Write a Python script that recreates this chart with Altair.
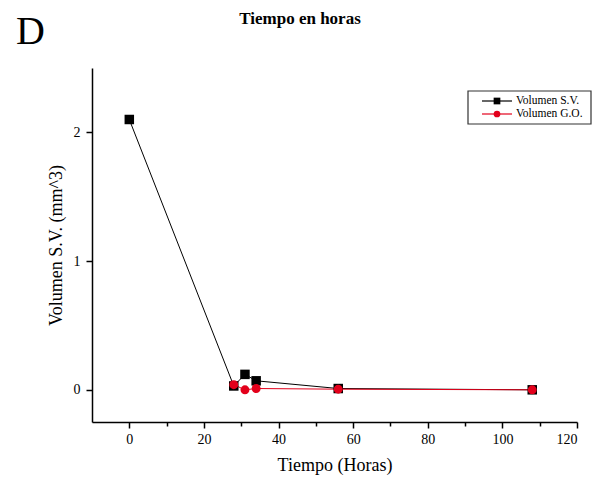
import altair as alt
import pandas as pd

# Data
hours_sv = [0, 28, 31, 34, 56, 108]
vol_sv = [2.1, 0.03, 0.12, 0.07, 0.01, 0.0]
hours_go = [28, 31, 34, 56, 108]
vol_go = [0.04, 0.0, 0.01, 0.005, 0.0]
series_names = ["Volumen S.V.", "Volumen G.O."]
series_colors = ["#000000", "#e3001b"]

df_sv = pd.DataFrame({"h": hours_sv, "v": vol_sv, "s": series_names[0]})
df_go = pd.DataFrame({"h": hours_go, "v": vol_go, "s": series_names[1]})

FONT = "Liberation Serif"
W, H = 485, 354

xs = alt.Scale(domain=[-10, 120], nice=False, zero=False)
ys = alt.Scale(domain=[-0.25, 2.5], nice=False, zero=False)

x_axis = alt.Axis(
    values=list(range(0, 121, 10)),
    format="d",
    labelExpr="datum.value % 20 === 0 ? datum.label : ''",
    tickSize={"condition": {"test": "datum.value % 20 === 0", "value": 6}, "value": 4},
    grid=False, domainColor="black", domainWidth=1.5, tickColor="black", tickWidth=1.5,
    labelFont=FONT, labelFontSize=14, labelColor="black", labelPadding=4,
    title="Tiempo (Horas)", titleFont=FONT, titleFontSize=18, titleFontWeight="normal",
    titleColor="black", titlePadding=10,
)
y_axis = alt.Axis(
    values=[0, 0.5, 1, 1.5, 2],
    format="d",
    labelExpr="datum.value % 1 === 0 ? datum.label : ''",
    tickSize={"condition": {"test": "datum.value % 1 === 0", "value": 6}, "value": 4},
    grid=False, domainColor="black", domainWidth=1.5, tickColor="black", tickWidth=1.5,
    labelFont=FONT, labelFontSize=14, labelColor="black", labelPadding=6,
    title="Volumen S.V. (mm^3)", titleFont=FONT, titleFontSize=18, titleFontWeight="normal",
    titleColor="black", titlePadding=8,
)

base_sv = alt.Chart(df_sv)
base_go = alt.Chart(df_go)

line_sv = base_sv.mark_line(color=series_colors[0], strokeWidth=1).encode(
    x=alt.X("h:Q", scale=xs, axis=x_axis), y=alt.Y("v:Q", scale=ys, axis=y_axis))
pts_sv = base_sv.mark_point(shape="square", filled=True, size=90, color=series_colors[0], opacity=1).encode(
    x=alt.X("h:Q", scale=xs), y=alt.Y("v:Q", scale=ys))
line_go = base_go.mark_line(color=series_colors[1], strokeWidth=1).encode(
    x=alt.X("h:Q", scale=xs), y=alt.Y("v:Q", scale=ys))
pts_go = base_go.mark_point(shape="circle", filled=True, size=80, color=series_colors[1], opacity=1).encode(
    x=alt.X("h:Q", scale=xs), y=alt.Y("v:Q", scale=ys))

# Manual legend (pixel positions relative to plot area origin at (92,68))
lx0, ly0 = 376, 23
leg_box = alt.Chart(pd.DataFrame({"a": [0]})).mark_rect(
    fill="white", stroke="#333", strokeWidth=1.2).encode(
    x=alt.value(lx0), x2=alt.value(lx0 + 123), y=alt.value(ly0), y2=alt.value(ly0 + 33))
leg_layers = []
for i, (name, col, shp, sz) in enumerate(zip(series_names, series_colors, ["square", "circle"], [45, 45])):
    yy = ly0 + 10 + i * 13
    leg_layers.append(alt.Chart(pd.DataFrame({"a": [0]})).mark_rule(color=col, strokeWidth=1.2).encode(
        x=alt.value(lx0 + 14), x2=alt.value(lx0 + 44), y=alt.value(yy)))
    leg_layers.append(alt.Chart(pd.DataFrame({"a": [0]})).mark_point(
        shape=shp, filled=True, size=sz, color=col, opacity=1).encode(
        x=alt.value(lx0 + 29), y=alt.value(yy)))
    leg_layers.append(alt.Chart(pd.DataFrame({"a": [name]})).mark_text(
        font=FONT, fontSize=11.5, align="left", baseline="middle", color="black").encode(
        x=alt.value(lx0 + 48), y=alt.value(yy), text="a:N"))

title_txt = alt.Chart(pd.DataFrame({"t": ["Tiempo en horas"]})).mark_text(
    font=FONT, fontSize=17, fontWeight="bold", align="center", baseline="alphabetic", color="black").encode(
    x=alt.value(208), y=alt.value(-44), text="t:N")
d_txt = alt.Chart(pd.DataFrame({"t": ["D"]})).mark_text(
    font=FONT, fontSize=40, align="left", baseline="alphabetic", color="black").encode(
    x=alt.value(-76), y=alt.value(-24), text="t:N")

chart = alt.layer(
    line_sv, line_go, pts_sv, pts_go, leg_box, *leg_layers, title_txt, d_txt
).properties(
    width=W, height=H,
    autosize=alt.AutoSizeParams(type="none"),
    padding={"left": 84, "top": 60, "right": 18, "bottom": 58},
).configure(background="white").configure_view(stroke=None)

chart.save("out.html", embed_options={"renderer": "svg", "actions": False})
